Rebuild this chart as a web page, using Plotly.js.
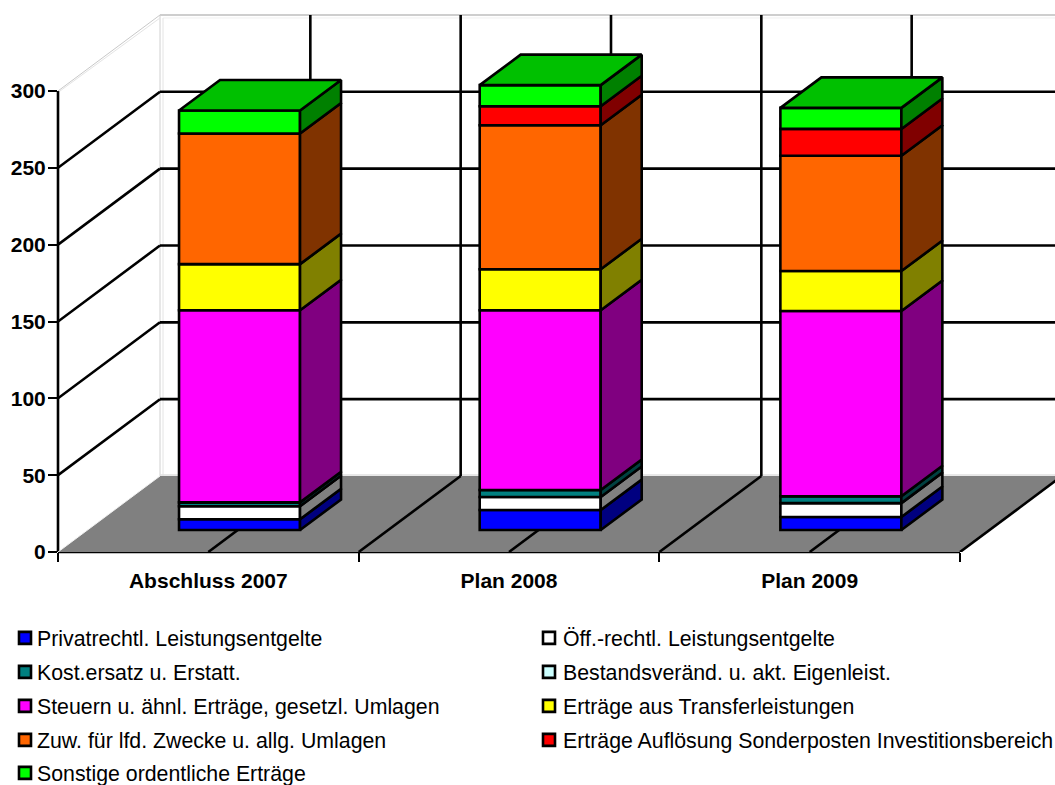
<!DOCTYPE html>
<html>
<head>
<meta charset="utf-8">
<script src="https://cdn.plot.ly/plotly-3.0.1.min.js"></script>
<style>html,body{margin:0;padding:0;background:#fff}#chart{width:1055px;height:785px}</style>
</head>
<body>
<div id="chart"></div>
<script>
const categories = ['Abschluss 2007', 'Plan 2008', 'Plan 2009'];
const seriesNames = ['Privatrechtl. Leistungsentgelte', 'Öff.-rechtl. Leistungsentgelte', 'Kost.ersatz u. Erstatt.', 'Bestandsveränd. u. akt. Eigenleist.', 'Steuern u. ähnl. Erträge, gesetzl. Umlagen', 'Erträge aus Transferleistungen', 'Zuw. für lfd. Zwecke u. allg. Umlagen', 'Erträge Auflösung Sonderposten Investitionsbereich', 'Sonstige ordentliche Erträge'];
const privatrechtl = [7, 13, 8.5];
const oeffRechtl = [8.5, 8.5, 9];
const kostErsatz = [2.5, 4.5, 4.5];
const bestandsVeraend = [0, 0, 0];
const steuern = [125, 117, 120.5];
const transfer = [30, 26.7, 26];
const zuweisungen = [85, 93.7, 75];
const aufloesung = [0, 12.4, 17.5];
const sonstige = [15, 13.7, 13.7];
const seriesValues = [privatrechtl, oeffRechtl, kostErsatz, bestandsVeraend, steuern, transfer, zuweisungen, aufloesung, sonstige];
const frontColors = ['#0000FF', '#FFFFFF', '#008080', '#CCFFFF', '#FF00FF', '#FFFF00', '#FF6600', '#FF0000', '#00FF00'];
const sideColors = ['#000080', '#808080', '#004040', '#668080', '#800080', '#808000', '#803300', '#800000', '#008000'];
const topColor = '#00C000';
const yTicks = [0, 50, 100, 150, 200, 250, 300];

// Geometry of the pseudo 3D box, in axis units
const pxPerCat = 300.67, pxPerVal = 1.5367;
const wallDX = 102 / pxPerCat, wallDY = 76 / pxPerVal;
const barFrontDY = 22 / pxPerVal;
const barDX = 41 / pxPerCat, barDY = 30.5 / pxPerVal;
const barWidth = 121 / pxPerCat, barOffset = -29.3 / pxPerCat;
const xLeft = -0.5, xRight = 2.5, xMax = xRight + 95 / pxPerCat, yMax = 540 / pxPerVal;
const edge = 2.6;

const traces = [], shapes = [];
const layoutLegends = {};
const legendPos = [[0, 638], [523, 638], [0, 672], [523, 672], [0, 706], [523, 706], [0, 740], [523, 740], [0, 773]];

// cumulative bases
const bases = seriesValues.map((vals, s) => vals.map((_, c) => {
  let b = barFrontDY;
  for (let k = 0; k < s; k++) b += seriesValues[k][c];
  return b;
}));

seriesValues.forEach((vals, s) => {
  const key = s === 0 ? 'legend' : 'legend' + (s + 1);
  layoutLegends[key] = {
    x: legendPos[s][0] / 1055, y: 1 - legendPos[s][1] / 785,
    xref: 'container', yref: 'container', xanchor: 'left', yanchor: 'middle',
    bgcolor: 'rgba(0,0,0,0)', borderwidth: 0, itemwidth: 30,
    font: {family: 'Liberation Sans, Arial, sans-serif', size: 21.3, color: '#000'}
  };
  traces.push({
    type: 'bar', name: seriesNames[s], x: categories, y: vals, base: bases[s],
    width: barWidth, offset: barOffset, legend: key,
    marker: {color: frontColors[s], line: {color: '#000', width: edge}},
    hovertemplate: '%{x}<br>' + seriesNames[s] + ': %{y}<extra></extra>'
  });
});

// side faces, on a linear x axis that overlays the category axis one to one
seriesValues.forEach((vals, s) => {
  const xs = [], ys = [];
  vals.forEach((v, c) => {
    if (v <= 0) return;
    const xr = c + barOffset + barWidth, b = bases[s][c];
    xs.push(xr, xr, xr + barDX, xr + barDX, xr, null);
    ys.push(b, b + v, b + v + barDY, b + barDY, b, null);
  });
  traces.push({
    type: 'scatter', mode: 'lines', xaxis: 'x2', yaxis: 'y', x: xs, y: ys, fill: 'toself', fillcolor: sideColors[s],
    line: {color: '#000', width: edge}, showlegend: false, hoverinfo: 'skip'
  });
});

// top faces
(function () {
  const xs = [], ys = [];
  categories.forEach((_, c) => {
    const xl = c + barOffset, xr = xl + barWidth, t = bases[8][c] + sonstige[c];
    xs.push(xl, xr, xr + barDX, xl + barDX, xl, null);
    ys.push(t, t, t + barDY, t + barDY, t, null);
  });
  traces.push({
    type: 'scatter', mode: 'lines', xaxis: 'x2', yaxis: 'y', x: xs, y: ys, fill: 'toself', fillcolor: topColor,
    line: {color: '#000', width: edge}, showlegend: false, hoverinfo: 'skip'
  });
})();

function seg(x0, y0, x1, y1, color, width) {
  shapes.push({type: 'line', layer: 'below', xref: 'x2', yref: 'y', x0, y0, x1, y1, line: {color, width}});
}
// floor
shapes.push({
  type: 'path', layer: 'below', xref: 'x2', yref: 'y', fillcolor: '#808080', line: {width: 0},
  path: `M${xLeft},0L${xRight},0L${xRight + wallDX},${wallDY}L${xLeft + wallDX},${wallDY}Z`
});
// wall frame (light)
const wallTop = 300 + wallDY, light = '#C8C8C8';
seg(xLeft + wallDX, wallTop, xMax, wallTop, '#BEBEBE', 1.5);
seg(xLeft + wallDX + 3 / pxPerCat, wallTop - 3 / pxPerVal, xMax, wallTop - 3 / pxPerVal, '#F0F0F0', 1);
seg(xLeft + wallDX, wallDY, xLeft + wallDX, wallTop, '#D0D0D0', 1);
seg(xLeft + wallDX + 3 / pxPerCat, wallDY, xLeft + wallDX + 3 / pxPerCat, wallTop - 3 / pxPerVal, '#E4E4E4', 1);
seg(xLeft, 300, xLeft + wallDX, wallTop, light, 1);
seg(xLeft + 2 / pxPerCat, 300, xLeft + wallDX, wallTop - 3 / pxPerVal, '#E4E4E4', 1);
seg(xLeft + wallDX, wallDY + 1 / pxPerVal, xMax, wallDY + 1 / pxPerVal, '#E0E0E0', 1.5);
seg(xLeft, 0, xLeft + wallDX, wallDY, '#F0F0F0', 1);
// horizontal grid: left wall + back wall (the 300 level is the light top frame)
yTicks.forEach(t => {
  if (t === 0 || t === 300) return;
  seg(xLeft, t, xLeft + wallDX, t + wallDY, '#000', edge);
  seg(xLeft + wallDX, t + wallDY, xMax, t + wallDY, '#000', edge);
});
// vertical grid on back wall + depth lines on the floor (centres and boundaries)
[0, 0.5, 1, 1.5, 2, 2.5].forEach(gx => {
  seg(gx, 0, gx + wallDX, wallDY, '#000', edge);
  if (gx + wallDX <= xMax) seg(gx + wallDX, wallDY, gx + wallDX, wallTop, '#000', edge);
});
// axis lines (one paper coordinate so they are not clipped in half)
shapes.push({type: 'line', layer: 'below', xref: 'paper', yref: 'y', x0: 0, x1: 0, y0: 0, y1: 300, line: {color: '#000', width: edge}});
shapes.push({type: 'line', layer: 'below', xref: 'x2', yref: 'paper', x0: xLeft, x1: xRight, y0: 0, y1: 0, line: {color: '#000', width: edge}});

const tickFont = {family: 'Liberation Sans, Arial, sans-serif', size: 21, color: '#000', weight: 'bold'};
const layout = Object.assign({
  width: 1055, height: 785, paper_bgcolor: '#fff', plot_bgcolor: '#fff',
  margin: {l: 58, r: 0, t: 12, b: 233, pad: 0, autoexpand: false},
  barmode: 'overlay', hovermode: 'closest', showlegend: true,
  xaxis: {
    type: 'category', categoryorder: 'array', categoryarray: categories,
    range: [xLeft, xMax], tickson: 'boundaries', ticks: 'outside', ticklen: 9, tickwidth: 2, tickcolor: '#000',
    ticklabelstandoff: 14,
    showgrid: false, zeroline: false, showline: false, tickfont: tickFont, fixedrange: true
  },
  xaxis2: {type: 'linear', overlaying: 'x', anchor: 'y', range: [xLeft, xMax], visible: false, fixedrange: true},
  yaxis: {
    range: [0, yMax], tickmode: 'array', tickvals: yTicks, ticktext: yTicks.map(String),
    ticks: 'outside', ticklen: 9, tickwidth: 2, tickcolor: '#000', ticklabelstandoff: -2,
    showgrid: false, zeroline: false, showline: false, tickfont: tickFont, fixedrange: true
  },
  shapes
}, layoutLegends);

Plotly.newPlot('chart', traces, layout, {displayModeBar: false}).then(gd => {
  // tighten the swatch-to-text gap of the legend entries
  gd.querySelectorAll('g.traces').forEach(item => {
    const text = item.querySelector('text');
    if (!text) return;
    const s = seriesNames.indexOf(text.textContent);
    if (s < 0) return;
    const left = s % 2 === 0;
    const sym = item.querySelector('.legendsymbols');
    if (sym) sym.setAttribute('transform', `translate(${left ? 5 : 6},0)`);
    if (left) text.setAttribute('x', 37);
  });
});
</script>
</body>
</html>
